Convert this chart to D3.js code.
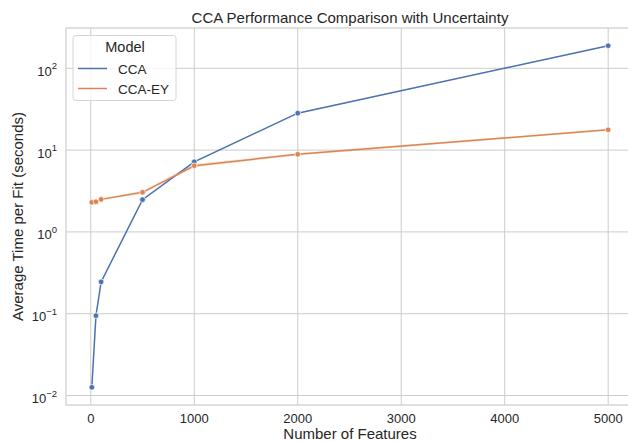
<!DOCTYPE html>
<html>
<head>
<meta charset="utf-8">
<script src="https://cdn.jsdelivr.net/npm/d3@7"></script>
<style>
  html, body { margin: 0; padding: 0; background: #fff; }
  svg { display: block; font-family: "Liberation Sans", Arial, sans-serif; }
</style>
</head>
<body>
<svg id="chart" width="628" height="442"></svg>
<script>
// Number of features for each benchmark run
const features = [10, 50, 100, 500, 1000, 2000, 5000];
// Mean fit time (seconds) per model
const ccaTime   = [0.0126, 0.0946, 0.245, 2.48, 7.2, 28.3, 189];
const ccaeyTime = [2.30, 2.34, 2.50, 3.05, 6.44, 8.9, 17.7];
// Uncertainty band bounds (seconds)
const ccaLow    = [0.0124, 0.093, 0.241, 2.44, 7.05, 27.8, 186];
const ccaHigh   = [0.0128, 0.096, 0.249, 2.52, 7.35, 28.8, 192];
const ccaeyLow  = [2.22, 2.27, 2.42, 2.92, 6.15, 8.6, 17.2];
const ccaeyHigh = [2.38, 2.41, 2.58, 3.18, 6.75, 9.2, 18.2];
const seriesNames = ["CCA", "CCA-EY"];
const xTicks = [0, 1000, 2000, 3000, 4000, 5000];
const yTicks = [-2, -1, 0, 1, 2];

const colors = { "CCA": "#4c72b0", "CCA-EY": "#dd8452" };

const series = [
  { name: "CCA", values: ccaTime, low: ccaLow, high: ccaHigh },
  { name: "CCA-EY", values: ccaeyTime, low: ccaeyLow, high: ccaeyHigh }
];

const svg = d3.select("#chart");
svg.append("rect").attr("width", 628).attr("height", 442).attr("fill", "#fff");

const plot = { left: 66, right: 634, top: 28, bottom: 405 };

// Axis limits with 5% padding around the data (log space for y)
const xMin = d3.min(features), xMax = d3.max(features);
const xPad = (xMax - xMin) * 0.05;
const allY = ccaTime.concat(ccaeyTime, ccaLow, ccaHigh, ccaeyLow, ccaeyHigh);
const lyMin = Math.log10(d3.min(allY)), lyMax = Math.log10(d3.max(allY));
const yPad = (lyMax - lyMin) * 0.05;

const x = d3.scaleLinear().domain([xMin - xPad, xMax + xPad]).range([plot.left, plot.right]);
const y = d3.scaleLog().domain([Math.pow(10, lyMin - yPad), Math.pow(10, lyMax + yPad)]).range([plot.bottom, plot.top]);

const grid = svg.append("g");
// vertical grid
grid.selectAll("line.vx").data(xTicks).join("line")
  .attr("x1", d => x(d)).attr("x2", d => x(d))
  .attr("y1", plot.top).attr("y2", plot.bottom)
  .attr("stroke", "#cccccc").attr("stroke-width", 1);
// horizontal grid
grid.selectAll("line.hy").data(yTicks).join("line")
  .attr("x1", plot.left).attr("x2", plot.right)
  .attr("y1", d => y(Math.pow(10, d))).attr("y2", d => y(Math.pow(10, d)))
  .attr("stroke", "#cccccc").attr("stroke-width", 1);
// frame
svg.append("rect")
  .attr("x", plot.left).attr("y", plot.top)
  .attr("width", plot.right - plot.left).attr("height", plot.bottom - plot.top)
  .attr("fill", "none").attr("stroke", "#cccccc").attr("stroke-width", 1.2);

// x tick labels
svg.append("g").selectAll("text").data(xTicks).join("text")
  .attr("x", d => x(d)).attr("y", 423)
  .attr("text-anchor", "middle").attr("font-size", 13).attr("fill", "#262626")
  .text(d => d);

// y tick labels: 10^n
const yl = svg.append("g").selectAll("text").data(yTicks).join("text")
  .attr("x", 57).attr("y", d => y(Math.pow(10, d)) + 7.5)
  .attr("text-anchor", "end").attr("font-size", 13).attr("fill", "#262626");
yl.append("tspan").text("10");
yl.append("tspan").attr("dy", -6.5).attr("font-size", 9.5).text(d => d < 0 ? "\u2212" + Math.abs(d) : d);

// axis titles
svg.append("text").attr("x", (plot.left + plot.right) / 2).attr("y", 439)
  .attr("text-anchor", "middle").attr("font-size", 15).attr("fill", "#262626")
  .text("Number of Features");
svg.append("text")
  .attr("transform", `translate(23,${(plot.top + plot.bottom) / 2}) rotate(-90)`)
  .attr("text-anchor", "middle").attr("font-size", 15).attr("fill", "#262626")
  .text("Average Time per Fit (seconds)");
svg.append("text").attr("x", (plot.left + plot.right) / 2).attr("y", 23)
  .attr("text-anchor", "middle").attr("font-size", 15).attr("fill", "#262626")
  .text("CCA Performance Comparison with Uncertainty");

const clip = svg.append("clipPath").attr("id", "clip").append("rect")
  .attr("x", plot.left).attr("y", plot.top)
  .attr("width", plot.right - plot.left).attr("height", plot.bottom - plot.top);
const marks = svg.append("g").attr("clip-path", "url(#clip)");

const area = d3.area().x((d, i) => x(features[i])).y0(d => y(d[0])).y1(d => y(d[1]));
const line = d3.line().x((d, i) => x(features[i])).y(d => y(d));

series.forEach(s => {
  const band = s.low.map((l, i) => [l, s.high[i]]);
  marks.append("path").datum(band).attr("d", area)
    .attr("fill", colors[s.name]).attr("fill-opacity", 0.2);
});
series.forEach(s => {
  marks.append("path").datum(s.values).attr("d", line)
    .attr("fill", "none").attr("stroke", colors[s.name]).attr("stroke-width", 1.5);
  marks.selectAll(null).data(s.values).join("circle")
    .attr("cx", (d, i) => x(features[i])).attr("cy", d => y(d)).attr("r", 2.8)
    .attr("fill", colors[s.name]).attr("stroke", "#fff").attr("stroke-width", 0.7);
});

// legend
const lg = svg.append("g");
lg.append("rect").attr("x", 73).attr("y", 35.5).attr("width", 103).attr("height", 65).attr("rx", 3)
  .attr("fill", "#fff").attr("fill-opacity", 0.8).attr("stroke", "#d6d6d6").attr("stroke-width", 1);
lg.append("text").attr("x", 125).attr("y", 52).attr("text-anchor", "middle")
  .attr("font-size", 14.5).attr("fill", "#262626").text("Model");
seriesNames.forEach((n, i) => {
  const ly = 68.5 + i * 20;
  lg.append("line").attr("x1", 78).attr("x2", 107).attr("y1", ly).attr("y2", ly)
    .attr("stroke", colors[n]).attr("stroke-width", 1.5);
  lg.append("text").attr("x", 118).attr("y", ly + 5).attr("font-size", 13.5)
    .attr("fill", "#262626").text(n);
});
</script>
</body>
</html>
